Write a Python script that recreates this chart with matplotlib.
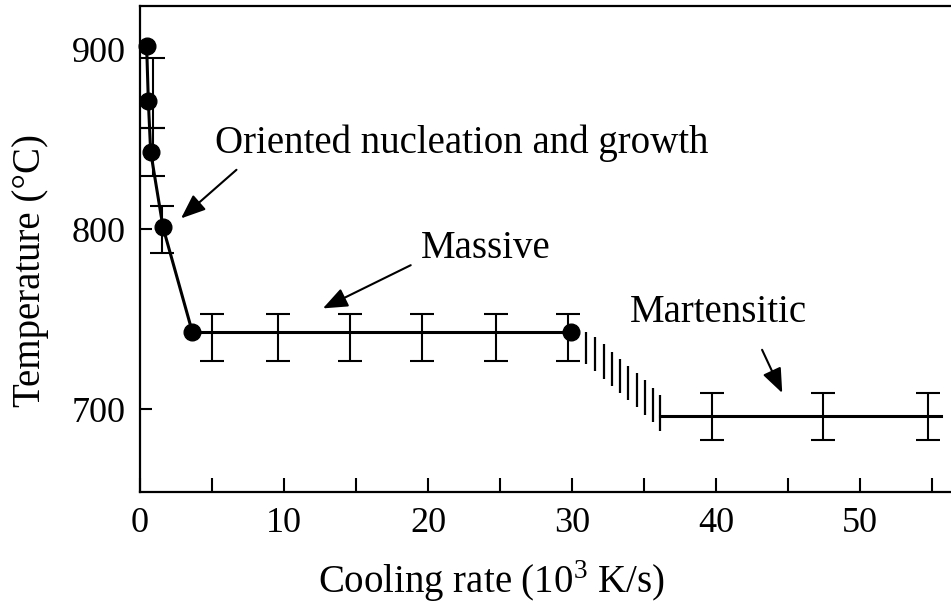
import numpy as np
import matplotlib
matplotlib.use('Agg')
import matplotlib.pyplot as plt

plt.rcParams['font.family'] = ['Liberation Serif', 'DejaVu Serif']
plt.rcParams['mathtext.fontset'] = 'custom'
plt.rcParams['mathtext.rm'] = 'Liberation Serif'

# transformation temperature vs cooling rate
rate_curve = [0.46, 0.58, 0.74, 1.6, 3.63]
temp_curve = [902, 871, 843, 801, 743]
rate_massive = [3.63, 29.9]
temp_massive = 743
rate_mart = [36.1, 55.6]
temp_mart = 696

# error bars
err_x_early = [0.9, 0.9, 1.55]
err_y_early = [875.5, 843, 800]
err_lo_early = [19.5, 13.5, 13]
err_hi_early = [19.5, 13.5, 13]
err_x_massive = [5.0, 9.6, 14.6, 19.6, 24.7, 29.7]
err_lo_massive = 16
err_hi_massive = 10
err_x_mart = [39.7, 47.4, 54.7]
err_mart = 13

# hatched transition between massive and martensitic
hatch_x = [31.0, 31.6, 32.2, 32.8, 33.3, 33.9, 34.5, 35.1, 35.6, 36.1]
hatch_top = [743, 740, 736, 732, 728, 724, 720, 716, 712, 708]
hatch_bot = [725, 721, 717, 713, 709, 705, 701, 697, 693, 688]

fig = plt.figure(figsize=(9.51, 6.04), dpi=100)
ax = fig.add_axes([140/951, 1-492/604, 1-140/951, (492-6)/604])

lw = 2.2
ax.plot(rate_curve, temp_curve, color='black', lw=lw, zorder=3)
ax.plot(rate_massive, [temp_massive]*2, color='black', lw=lw, zorder=3)
ax.plot(rate_mart, [temp_mart]*2, color='black', lw=lw, zorder=3)
ax.plot(rate_curve + [rate_massive[-1]], temp_curve + [temp_massive], 'o',
        color='black', ms=12, zorder=4, clip_on=False)

ek = dict(fmt='none', ecolor='black', elinewidth=1.5, capsize=8.3, capthick=1.5, zorder=2)
ax.errorbar(err_x_early, err_y_early, yerr=[err_lo_early, err_hi_early], **ek)
ax.errorbar(err_x_massive, [temp_massive]*len(err_x_massive),
            yerr=[[err_lo_massive]*6, [err_hi_massive]*6], **ek)
ax.errorbar(err_x_mart, [temp_mart]*len(err_x_mart), yerr=err_mart, **ek)

ax.vlines(hatch_x, hatch_bot, hatch_top, color='black', lw=1.6)

fs = 26
fs_note = 28
ap = dict(arrowstyle='-|>,head_length=0.5,head_width=0.2', color='black', lw=1.5,
          mutation_scale=30, shrinkA=0, shrinkB=0)
ax.annotate('', xy=(2.85, 806), xytext=(6.7, 833), arrowprops=ap)
ax.text(5.2, 848, 'Oriented nucleation and growth', fontsize=fs_note, va='center')
ax.annotate('', xy=(12.7, 756), xytext=(18.8, 780), arrowprops=ap)
ax.text(19.5, 789.5, 'Massive', fontsize=fs_note, va='center')
ax.annotate('', xy=(44.6, 709), xytext=(43.2, 733), arrowprops=ap)
ax.text(34.0, 754, 'Martensitic', fontsize=fs_note, va='center')

ax.set_xlim(0, (951-140)/14.4)
ax.set_ylim(654, 924)
ax.set_xticks([0, 10, 20, 30, 40, 50])
ax.set_xticks([5, 15, 25, 35, 45, 55], minor=True)
ax.set_yticks([700, 800, 900])
ax.tick_params(axis='both', which='both', direction='in', width=1.5,
               labelsize=fs, color='black')
ax.tick_params(axis='x', which='both', length=10, pad=11)
ax.tick_params(axis='y', length=8.5, pad=10)
ax.spines['right'].set_visible(False)
for s in ['left', 'bottom', 'top']:
    ax.spines[s].set_linewidth(1.6)

ax.set_xlabel('Cooling rate (10$^3$ K/s)', fontsize=fs_note)
ax.set_ylabel('Temperature (°C)', fontsize=fs_note)
ax.xaxis.set_label_coords(0.433, -0.135)
ax.yaxis.set_label_coords(-0.112, 0.455)

fig.savefig('out.png', dpi=100)
